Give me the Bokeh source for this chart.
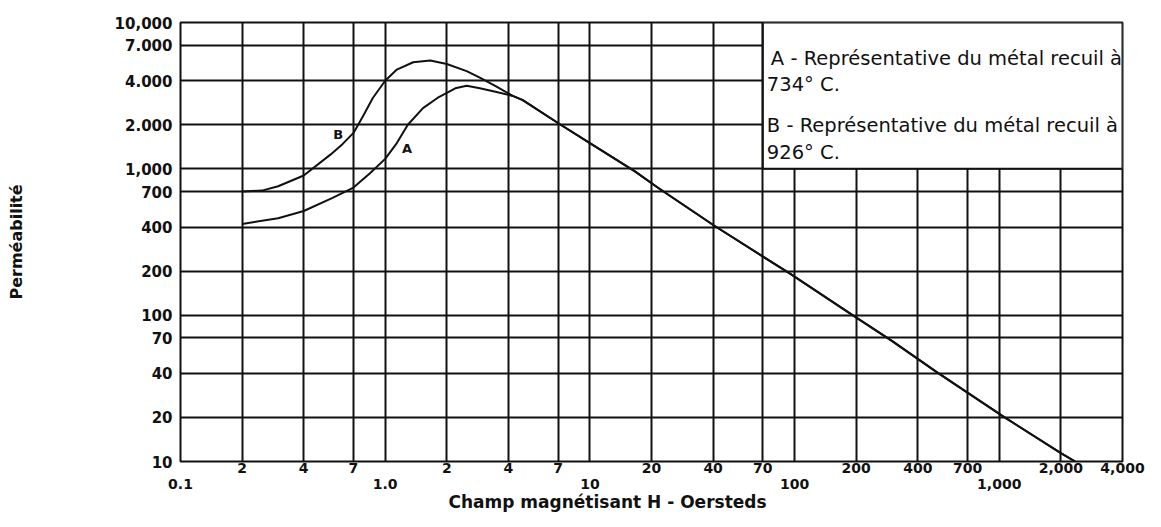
from bokeh.plotting import figure
from bokeh.models import FixedTicker, LogAxis, BoxAnnotation, Label, Title
from bokeh.embed import file_html
from bokeh.resources import INLINE

# ---------------- data ----------------
# Curve A : métal recuit à 734 °C  (rising part)
A_H = [0.2, 0.3, 0.4, 0.55, 0.7, 0.84, 1.0, 1.14, 1.29, 1.53, 1.8, 2.0, 2.2, 2.5, 2.9, 3.5, 4.2]
A_MU = [420, 460, 515, 630, 745, 930, 1170, 1500, 2000, 2600, 3050, 3300, 3550, 3700, 3550, 3350, 3150]
# Curve B : métal recuit à 926 °C  (rising part)
B_H = [0.2, 0.25, 0.3, 0.4, 0.54, 0.62, 0.7, 0.78, 0.87, 1.0, 1.14, 1.37, 1.66, 2.0, 2.5, 2.9, 3.5, 4.2]
B_MU = [700, 710, 760, 900, 1250, 1480, 1760, 2300, 3050, 4000, 4770, 5350, 5500, 5200, 4650, 4200, 3650, 3150]
# Common descending branch (both curves)
TAIL_H = [4.7, 7.2, 10, 16.6, 21.6, 40.4, 95, 192, 300, 493, 1035, 2000, 2350]
TAIL_MU = [2950, 2000, 1500, 960, 740, 410, 192, 100, 66.5, 41, 20.5, 11.4, 10]

# Axis ticks / labels
X_MINOR_TICKS = [0.2, 0.4, 0.7, 2, 4, 7, 20, 40, 70, 200, 400, 700, 2000, 4000]
X_MINOR_LABELS = ["2", "4", "7", "2", "4", "7", "20", "40", "70", "200", "400", "700", "2,000", "4,000"]
X_DECADE_TICKS = [0.1, 1, 10, 100, 1000]
X_DECADE_LABELS = ["0.1", "1.0", "10", "100", "1,000"]
Y_TICKS = [10, 20, 40, 70, 100, 200, 400, 700, 1000, 2000, 4000, 7000, 10000]
Y_LABELS = ["10", "20", "40", "70", "100", "200", "400", "700", "1,000", "2.000", "4.000", "7.000", "10,000"]

X_TITLE = "Champ magnétisant H - Oersteds"
Y_TITLE = "Perméabilité"
LEGEND_LINES = ["A - Représentative du métal recuil à", "734° C.",
                "B - Représentative du métal recuil à", "926° C."]
CURVE_TAGS = ["A", "B"]
TAG_H = [1.28, 0.59]
TAG_MU = [1380, 1717]

# legend box extent (in data units)
BOX_H = [70, 4000]
BOX_MU = [1000, 10000]

INK = "#111111"
FONT = "DejaVu Sans"

p = figure(width=1160, height=521, x_axis_type="log", y_axis_type="log",
           x_range=(0.1, 4000), y_range=(10, 10000),
           output_backend="svg", toolbar_location=None,
           min_border_left=180, min_border_right=38, min_border_top=22, min_border_bottom=60,
           background_fill_color="white", border_fill_color="white")
p.outline_line_color = INK
p.outline_line_width = 2


def style_axis(ax, standoff, size):
    ax.axis_line_color = None
    ax.major_tick_line_color = None
    ax.minor_tick_line_color = None
    ax.major_tick_out = 0
    ax.major_tick_in = 0
    ax.minor_tick_out = 0
    ax.minor_tick_in = 0
    ax.major_label_standoff = standoff
    ax.major_label_text_font = FONT
    ax.major_label_text_font_style = "bold"
    ax.major_label_text_font_size = size
    ax.major_label_text_color = INK


# x axis - first row (intermediate values)
xa = p.xaxis[0]
xa.ticker = FixedTicker(ticks=X_MINOR_TICKS)
xa.major_label_overrides = {t: l for t, l in zip(X_MINOR_TICKS, X_MINOR_LABELS)}
style_axis(xa, 1, "14px")

# x axis - second row (decades)
xa2 = LogAxis(ticker=FixedTicker(ticks=X_DECADE_TICKS),
              major_label_overrides={t: l for t, l in zip(X_DECADE_TICKS, X_DECADE_LABELS)})
style_axis(xa2, 3, "14px")
p.add_layout(xa2, "below")

# x title (offset towards the left, as on the original)
p.add_layout(Title(text=X_TITLE, align="left", offset=268, vertical_align="top", standoff=0,
                   text_font=FONT, text_font_style="bold", text_font_size="17px",
                   text_color=INK), "below")

# y axis
ya = p.yaxis[0]
ya.ticker = FixedTicker(ticks=Y_TICKS)
ya.major_label_overrides = {t: l for t, l in zip(Y_TICKS, Y_LABELS)}
style_axis(ya, 8, "15px")
ya.axis_label = Y_TITLE
ya.axis_label_standoff = 86
ya.axis_label_text_font = FONT
ya.axis_label_text_font_style = "bold"
ya.axis_label_text_font_size = "16px"
ya.axis_label_text_color = INK

# grids
p.xgrid.ticker = FixedTicker(ticks=X_MINOR_TICKS + X_DECADE_TICKS)
p.ygrid.ticker = FixedTicker(ticks=Y_TICKS)
for g in (p.xgrid, p.ygrid):
    g.grid_line_color = INK
    g.grid_line_width = 2
    g.grid_line_alpha = 1.0
    g.minor_grid_line_color = None

# curves
p.line(A_H + TAIL_H, A_MU + TAIL_MU, line_color=INK, line_width=2, line_join="round")
p.line(B_H + TAIL_H, B_MU + TAIL_MU, line_color=INK, line_width=2, line_join="round")

# curve tags
for t, h, m in zip(CURVE_TAGS, TAG_H, TAG_MU):
    p.add_layout(Label(x=h, y=m, text=t, text_align="center", text_baseline="middle",
                       text_font=FONT, text_font_style="bold", text_font_size="13px",
                       text_color=INK))

# legend box
p.add_layout(BoxAnnotation(left=BOX_H[0], right=BOX_H[1], bottom=BOX_MU[0], top=BOX_MU[1],
                           fill_color="white", fill_alpha=1.0,
                           line_color=INK, line_width=2, line_alpha=1.0))
leg_dy = [-36, -62, -103, -130]
leg_dx = [8, 4, 4, 4]
for txt, dx, dy in zip(LEGEND_LINES, leg_dx, leg_dy):
    p.add_layout(Label(x=BOX_H[0], y=BOX_MU[1], x_offset=dx, y_offset=dy, text=txt,
                       text_align="left", text_baseline="alphabetic",
                       text_font=FONT, text_font_size="19.5px", text_color=INK))

open("out.html", "w").write(file_html(p, INLINE))
